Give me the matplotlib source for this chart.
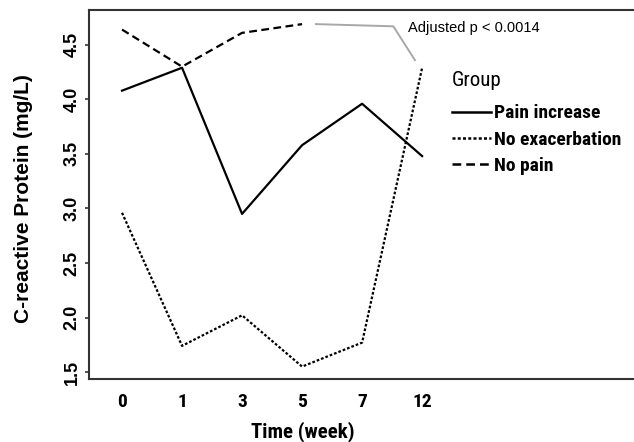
import numpy as np
import matplotlib.pyplot as plt
import matplotlib.transforms as mtransforms

# Mean CRP by visit for each pain group
weeks = ['0', '1', '3', '5', '7', '12']
pain_increase = [4.08, 4.29, 2.95, 3.58, 3.96, 3.48]
no_exacerbation = [2.96, 1.74, 2.02, 1.55, 1.77, 4.29]
no_pain = [4.64, 4.30, 4.61, 4.69]

# gray bracket marking the significant comparison
bracket_x = [3.23, 4.52, 4.88]
bracket_y = [4.69, 4.67, 4.36]
p_label = 'Adjusted p < 0.0014'

narrow = ['Roboto Condensed', 'DejaVu Sans']
plt.rcParams['font.family'] = ['Liberation Sans', 'DejaVu Sans']

fig = plt.figure(figsize=(6.34, 4.42), dpi=100)
ax = fig.add_axes([0.1404, 0.1425, 0.8596, 0.835])

x = np.arange(len(weeks))
lw = 1.6
ax.plot(x, pain_increase, color='black', lw=lw, ls='-', label='Pain increase')
ax.plot(x, no_exacerbation, color='black', lw=lw, ls=(0, (1.2, 0.9)), label='No exacerbation')
ax.plot(x[:len(no_pain)], no_pain, color='black', lw=lw, ls=(0, (3.5, 2)), label='No pain')

ax.plot(bracket_x, bracket_y, color='#a8a8a8', lw=1.4)
ax.text(4.77, 4.65, p_label, fontsize=10.5, va='center', ha='left')

ax.set_xlim(-0.55, 8.53)
ax.set_ylim(1.436, 4.82)
ax.set_xticks(x)
ax.set_xticklabels(weeks, family=narrow, fontweight='bold', fontsize=14)
# the last label sits a little right of its tick
last = ax.get_xticklabels()[-1]
last.set_transform(last.get_transform() +
                   mtransforms.ScaledTranslation(8 / 100, 0, fig.dpi_scale_trans))
ax.set_yticks([1.5, 2.0, 2.5, 3.0, 3.5, 4.0, 4.5])
ax.set_yticklabels(['1.5', '2.0', '2.5', '3.0', '3.5', '4.0', '4.5'],
                   rotation=90, va='center', fontweight='bold', fontsize=13)
ax.tick_params(axis='x', length=0, pad=10)
ax.tick_params(axis='y', length=3, width=1.2, pad=3, color='#333333')

for side in ['left', 'bottom', 'top']:
    ax.spines[side].set_linewidth(1.5)
    ax.spines[side].set_color('#333333')
ax.spines['right'].set_visible(False)

ax.set_xlabel('Time (week)', family=narrow, fontweight='bold', fontsize=15)
ax.xaxis.set_label_coords(0.392, -0.115)
ax.set_ylabel('C-reactive Protein (mg/L)', fontweight='bold', fontsize=15)
ax.yaxis.set_label_coords(-0.102, 0.49)

# legend title is placed on its own so the gap below it can be set
ax.text(0.6665, 0.81, 'Group', transform=ax.transAxes, family=narrow,
        fontsize=15, va='center', ha='left')
leg = ax.legend(loc='upper left', bbox_to_anchor=(0.6665, 0.744), frameon=False,
                handlelength=2.0, handletextpad=0.15,
                labelspacing=0.42, borderaxespad=0, borderpad=0,
                prop={'family': narrow, 'weight': 'bold', 'size': 14})
for h in leg.get_lines():
    h.set_linewidth(1.8)

fig.savefig('out.png', dpi=100)
